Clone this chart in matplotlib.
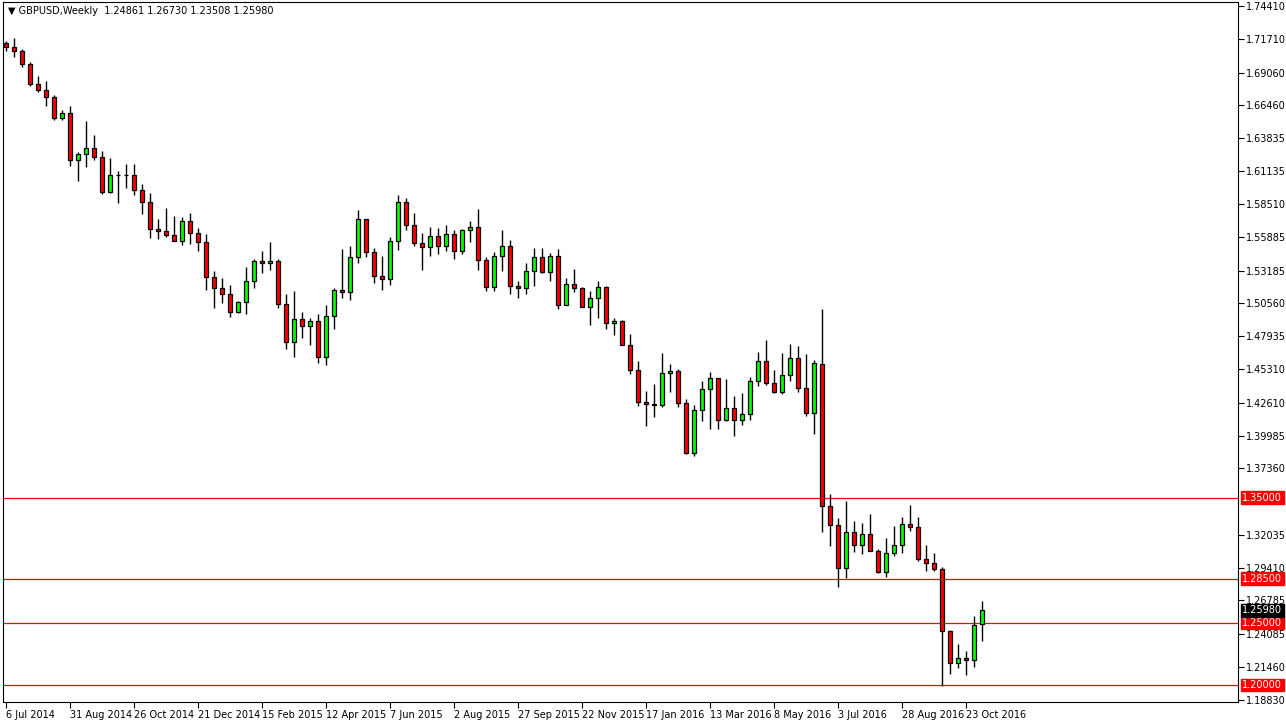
import matplotlib
matplotlib.use("Agg")
import matplotlib.pyplot as plt
import numpy as np

opens = [1.7143,1.7111,1.7078,1.6974,1.6814,1.6766,1.6710,1.6542,1.6582,1.6205,
 1.6253,1.6302,1.6229,1.5949,1.6085,1.6088,1.6085,1.5965,1.5869,1.5653,
 1.5637,1.5605,1.5557,1.5717,1.5621,1.5549,1.5268,1.5180,1.5132,1.4988,
 1.5068,1.5236,1.5396,1.5380,1.5396,1.5052,1.4748,1.4932,1.4876,1.4916,
 1.4627,1.4956,1.5164,1.5148,1.5428,1.5733,1.5468,1.5276,1.5252,1.5557,
 1.5869,1.5685,1.5541,1.5509,1.5597,1.5517,1.5613,1.5476,1.5645,1.5669,
 1.5404,1.5188,1.5436,1.5517,1.5196,1.5180,1.5316,1.5428,1.5308,1.5436,
 1.5044,1.5212,1.5180,1.5028,1.5100,1.5188,1.4900,1.4916,1.4724,1.4523,
 1.4267,1.4251,1.4245,1.4499,1.4515,1.4259,1.3858,1.4203,1.4371,1.4459,
 1.4123,1.4219,1.4123,1.4171,1.4435,1.4595,1.4419,1.4347,1.4483,1.4619,
 1.4379,1.4179,1.4571,1.3434,1.3282,1.2937,1.3226,1.3122,1.3210,1.3073,
 1.2905,1.3057,1.3122,1.3290,1.3266,1.3009,1.2977,1.2929,1.2433,1.2176,
 1.2216,1.2200,1.24861]
highs = [1.7159,1.7183,1.7094,1.6990,1.6878,1.6838,1.6726,1.6606,1.6638,1.6269,
 1.6518,1.6406,1.6277,1.6221,1.6117,1.6173,1.6173,1.6013,1.5941,1.5733,
 1.5821,1.5757,1.5749,1.5781,1.5661,1.5613,1.5316,1.5260,1.5204,1.5076,
 1.5348,1.5412,1.5476,1.5549,1.5412,1.5132,1.5156,1.4988,1.4940,1.4972,
 1.5044,1.5180,1.5493,1.5517,1.5805,1.5733,1.5501,1.5436,1.5589,1.5925,
 1.5901,1.5781,1.5621,1.5669,1.5661,1.5685,1.5645,1.5653,1.5717,1.5813,
 1.5428,1.5468,1.5645,1.5565,1.5236,1.5380,1.5501,1.5501,1.5460,1.5493,
 1.5260,1.5332,1.5188,1.5156,1.5236,1.5196,1.4940,1.4924,1.4812,1.4595,
 1.4355,1.4411,1.4659,1.4571,1.4531,1.4291,1.4243,1.4435,1.4507,1.4459,
 1.4451,1.4315,1.4339,1.4467,1.4667,1.4764,1.4523,1.4659,1.4732,1.4716,
 1.4651,1.4603,1.5012,1.3530,1.3338,1.3474,1.3314,1.3298,1.3370,1.3090,
 1.3178,1.3274,1.3346,1.3442,1.3346,1.3122,1.3057,1.2945,1.2441,1.2329,
 1.2273,1.2553,1.26730]
lows = [1.7078,1.7030,1.6950,1.6798,1.6750,1.6638,1.6526,1.6526,1.6157,1.6037,
 1.6149,1.6205,1.5933,1.5941,1.5861,1.5981,1.5925,1.5773,1.5581,1.5573,
 1.5589,1.5557,1.5525,1.5533,1.5476,1.5164,1.5020,1.5060,1.4948,1.4980,
 1.4972,1.5180,1.5300,1.5324,1.5020,1.4692,1.4627,1.4780,1.4724,1.4579,
 1.4563,1.4852,1.5100,1.5084,1.5380,1.5428,1.5220,1.5164,1.5204,1.5484,
 1.5645,1.5517,1.5324,1.5436,1.5452,1.5476,1.5412,1.5452,1.5549,1.5324,
 1.5156,1.5156,1.5316,1.5132,1.5100,1.5132,1.5196,1.5300,1.5236,1.5012,
 1.5044,1.5148,1.5028,1.4884,1.4940,1.4852,1.4804,1.4724,1.4491,1.4235,
 1.4075,1.4147,1.4227,1.4347,1.4227,1.3850,1.3834,1.4115,1.4051,1.4051,
 1.4115,1.3995,1.4083,1.4123,1.4395,1.4403,1.4339,1.4331,1.4435,1.4347,
 1.4155,1.4011,1.3226,1.3114,1.2785,1.2857,1.3065,1.3049,1.3073,1.2897,
 1.2865,1.3033,1.3057,1.3234,1.2993,1.2913,1.2913,1.1992,1.2088,1.2136,
 1.2080,1.2144,1.23508]
closes = [1.7111,1.7078,1.6974,1.6814,1.6766,1.6710,1.6542,1.6582,1.6205,1.6253,
 1.6302,1.6229,1.5949,1.6085,1.6088,1.6085,1.5965,1.5869,1.5653,1.5637,
 1.5605,1.5557,1.5717,1.5621,1.5549,1.5268,1.5180,1.5132,1.4988,1.5068,
 1.5236,1.5396,1.5380,1.5396,1.5052,1.4748,1.4932,1.4876,1.4916,1.4627,
 1.4956,1.5164,1.5148,1.5428,1.5733,1.5468,1.5276,1.5252,1.5557,1.5869,
 1.5685,1.5541,1.5509,1.5597,1.5517,1.5613,1.5476,1.5645,1.5669,1.5404,
 1.5188,1.5436,1.5517,1.5196,1.5180,1.5316,1.5428,1.5308,1.5436,1.5044,
 1.5212,1.5180,1.5028,1.5100,1.5188,1.4900,1.4916,1.4724,1.4523,1.4267,
 1.4251,1.4245,1.4499,1.4515,1.4259,1.3858,1.4203,1.4371,1.4459,1.4123,
 1.4219,1.4123,1.4171,1.4435,1.4595,1.4419,1.4347,1.4483,1.4619,1.4379,
 1.4179,1.4579,1.3434,1.3282,1.2937,1.3226,1.3122,1.3210,1.3073,1.2905,
 1.3057,1.3122,1.3290,1.3266,1.3009,1.2977,1.2929,1.2433,1.2176,1.2216,
 1.2200,1.2481,1.25980]

date_labels = ["6 Jul 2014","31 Aug 2014","26 Oct 2014","21 Dec 2014","15 Feb 2015",
 "12 Apr 2015","7 Jun 2015","2 Aug 2015","27 Sep 2015","22 Nov 2015","17 Jan 2016",
 "13 Mar 2016","8 May 2016","3 Jul 2016","28 Aug 2016","23 Oct 2016"]
price_ticks = [1.74410,1.71710,1.69060,1.66460,1.63835,1.61135,1.58510,1.55885,1.53185,
 1.50560,1.47935,1.45310,1.42610,1.39985,1.37360,1.32035,1.29410,
 1.26785,1.24085,1.21460,1.18830]
levels = [1.35000, 1.28500, 1.25000, 1.20000]
title = "GBPUSD,Weekly  1.24861 1.26730 1.23508 1.25980"

W, H = 1286, 726
fig = plt.figure(figsize=(W/100, H/100), dpi=100)
ax = fig.add_axes([3/W, 1-702/H, (1238-3)/W, 700/H])
ax.set_xlim(-0.375, 154)
ax.set_ylim(1.1864, 1.7471)

n = len(opens)
x = np.arange(n)
o = np.array(opens); c = np.array(closes)
cols = np.where(c >= o, "#00FF00", "#FF0000")
ax.vlines(x, lows, highs, color="black", lw=1.0, zorder=2)
bodies = np.maximum(np.abs(c - o), 0.0004)
ax.bar(x, bodies, bottom=np.minimum(o, c), width=0.62, color=cols,
       edgecolor="black", linewidth=0.9, zorder=3)

for lv in levels:
    ax.axhline(lv, color="#FF0000", lw=0.9, zorder=1)

ax.yaxis.tick_right()
ax.set_yticks(price_ticks)
ax.set_yticklabels([f"{t:.5f}" for t in price_ticks], fontsize=7)
ax.tick_params(axis="y", length=4, pad=2)
ax.set_xticks(x[::8])
ax.set_xticklabels(date_labels, fontsize=7, ha="left")
ax.tick_params(axis="x", length=4, pad=2)
for lbl in ax.get_xticklabels():
    lbl.set_x(0)
for lbl in ax.get_xticklabels():
    lbl.set_horizontalalignment("left")

for lv in levels:
    ax.annotate(f"{lv:.5f}", xy=(1.0, lv), xycoords=("axes fraction", "data"),
                xytext=(3, 0), textcoords="offset points", va="center", ha="left",
                fontsize=7, color="white",
                bbox=dict(boxstyle="square,pad=0.15", fc="#FF0000", ec="#FF0000"))
ax.annotate(f"{closes[-1]:.5f}", xy=(1.0, closes[-1]), xycoords=("axes fraction", "data"),
            xytext=(3, 0), textcoords="offset points", va="center", ha="left",
            fontsize=7, color="white",
            bbox=dict(boxstyle="square,pad=0.15", fc="black", ec="black"))

ax.text(0.004, 0.995, "\u25BC " + title, transform=ax.transAxes, fontsize=7,
        va="top", ha="left")

fig.savefig("out.png", dpi=100)
